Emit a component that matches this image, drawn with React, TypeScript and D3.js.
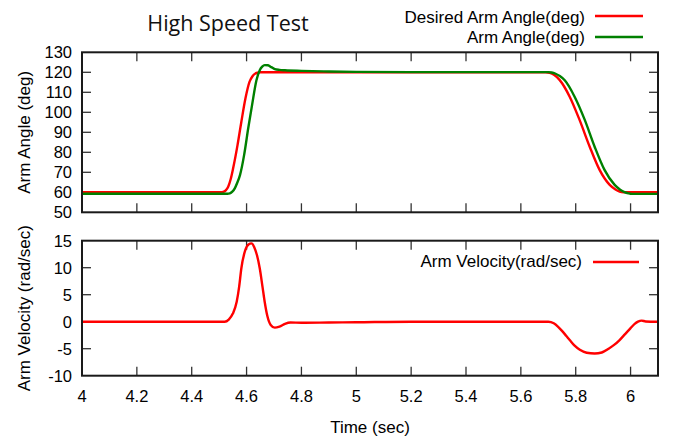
import React from "react";
import * as d3 from "d3";

// ---- Data ----
const desiredTime = [4.0, 4.505, 4.515, 4.524, 4.533, 4.542, 4.551, 4.567, 4.581, 4.596, 4.611, 4.621, 4.63, 4.64, 4.65, 5.69, 5.705, 5.722, 5.741, 5.778, 5.814, 5.851, 5.887, 5.924, 5.945, 5.96, 5.975, 5.997, 6.1];
const desiredAngle = [60, 60, 60.2, 61, 62.8, 66.5, 72, 83.6, 95.3, 107, 115.3, 117.9, 119.2, 119.8, 120, 120, 119.7, 118.6, 116.2, 107.8, 96.2, 82.8, 71.2, 63.7, 61.4, 60.4, 60.05, 60, 60];

const armTime = [4.0, 4.53, 4.539, 4.548, 4.557, 4.566, 4.576, 4.591, 4.606, 4.62, 4.636, 4.648, 4.657, 4.666, 4.678, 4.69, 4.703, 4.72, 4.74, 4.8, 4.9, 5.0, 5.2, 5.7, 5.712, 5.725, 5.742, 5.76, 5.796, 5.833, 5.869, 5.905, 5.942, 5.962, 5.978, 5.992, 6.005, 6.1];
const armAngle = [59.3, 59.3, 59.5, 60.3, 62, 64.8, 68.6, 78.6, 92, 103.6, 116, 121, 122.8, 123.6, 123.5, 122.6, 121.6, 121.2, 121.0, 120.7, 120.4, 120.2, 120.1, 120.1, 119.9, 119.4, 118.1, 116.0, 107.8, 96.2, 82.8, 71.2, 63.7, 61.3, 60.1, 59.5, 59.2, 59.2];

const velTime = [4.0, 4.52, 4.535, 4.55, 4.564, 4.573, 4.581, 4.595, 4.607, 4.618, 4.628, 4.638, 4.648, 4.658, 4.666, 4.676, 4.688, 4.703, 4.72, 4.74, 4.76, 4.8, 4.9, 5.0, 5.2, 5.7, 5.72, 5.735, 5.75, 5.765, 5.778, 5.795, 5.815, 5.84, 5.869, 5.895, 5.92, 5.94, 5.96, 5.98, 6.0, 6.015, 6.027, 6.04, 6.055, 6.1];
const armVelocity = [0, 0, 0.4, 1.5, 3.7, 6.5, 9.9, 13.2, 14.3, 14.5, 13.8, 12.3, 9.9, 6.5, 3.7, 1, -0.6, -1.1, -0.9, -0.4, -0.15, -0.2, -0.15, -0.1, 0, 0, -0.3, -0.9, -1.7, -2.6, -3.4, -4.4, -5.2, -5.75, -5.9, -5.7, -5.0, -4.3, -3.4, -2.3, -1.2, -0.4, 0, 0.2, 0.05, 0];

const xTicks = [4, 4.2, 4.4, 4.6, 4.8, 5, 5.2, 5.4, 5.6, 5.8, 6];
const angleTicks = [50, 60, 70, 80, 90, 100, 110, 120, 130];
const velTicks = [-10, -5, 0, 5, 10, 15];

const title = "High Speed Test";
const xLabel = "Time (sec)";
const angleLabel = "Arm Angle (deg)";
const velLabel = "Arm Velocity (rad/sec)";
const desiredName = "Desired Arm Angle(deg)";
const armName = "Arm Angle(deg)";
const velName = "Arm Velocity(rad/sec)";

const RED = "#ff0000";
const GREEN = "#008000";
const FONT = "'Liberation Sans', Arial, sans-serif";

export default function App() {
  const W = 674, H = 438;
  const left = 82, right = 658;
  const top1 = 52.3, bot1 = 212.3;
  const top2 = 240.7, bot2 = 375.7;
  const tickLen = 9;

  const x = d3.scaleLinear().domain([4, 6.1]).range([left, right]);
  const y1 = d3.scaleLinear().domain([50, 130]).range([bot1, top1]);
  const y2 = d3.scaleLinear().domain([-10, 15]).range([bot2, top2]);

  const mk = (ts: number[], vs: number[], ys: d3.ScaleLinear<number, number>) =>
    d3.line<number>().x((_, i) => x(ts[i])).y((v) => ys(v)).curve(d3.curveMonotoneX)(vs) || "";

  const desiredPath = mk(desiredTime, desiredAngle, y1);
  const armPath = mk(armTime, armAngle, y1);
  const velPath = mk(velTime, armVelocity, y2);

  const tickStroke = "#333";
  const fs = 16.5;

  const panel = (yTop: number, yBot: number, ys: d3.ScaleLinear<number, number>, yt: number[], key: string) => (
    <g key={key}>
      {xTicks.filter((t) => t > 4).map((t) => (
        <g key={"x" + t}>
          <line x1={x(t)} x2={x(t)} y1={yBot} y2={yBot - tickLen} stroke={tickStroke} strokeWidth={1.3} />
          <line x1={x(t)} x2={x(t)} y1={yTop} y2={yTop + tickLen} stroke={tickStroke} strokeWidth={1.3} />
        </g>
      ))}
      {yt.filter((v) => ys(v) > yTop + 1 && ys(v) < yBot - 1).map((v) => (
        <g key={"y" + v}>
          <line x1={left} x2={left + tickLen} y1={ys(v)} y2={ys(v)} stroke={tickStroke} strokeWidth={1.3} />
          <line x1={right} x2={right - tickLen} y1={ys(v)} y2={ys(v)} stroke={tickStroke} strokeWidth={1.3} />
        </g>
      ))}
      {yt.map((v) => (
        <text key={"yl" + v} x={72} y={ys(v) + fs * 0.36} textAnchor="end" fontSize={fs} fontFamily={FONT} fill="#000">
          {v}
        </text>
      ))}
    </g>
  );

  return (
    <svg width={W} height={H} style={{ position: "absolute", left: 0, top: 0, background: "#fff" }}>
      <rect x={0} y={0} width={W} height={H} fill="#fff" />
      <text x={228} y={31} textAnchor="middle" fontSize={21.5} fontFamily="'Open Sans', sans-serif" fill="#111">
        {title}
      </text>

      <defs>
        <clipPath id="c1"><rect x={left} y={top1} width={right - left} height={bot1 - top1} /></clipPath>
        <clipPath id="c2"><rect x={left} y={top2} width={right - left} height={bot2 - top2} /></clipPath>
      </defs>

      {panel(top1, bot1, y1, angleTicks, "p1")}
      {panel(top2, bot2, y2, velTicks, "p2")}

      <g clipPath="url(#c1)">
        <path d={desiredPath} fill="none" stroke={RED} strokeWidth={2.4} />
        <path d={armPath} fill="none" stroke={GREEN} strokeWidth={2.4} />
      </g>
      <g clipPath="url(#c2)">
        <path d={velPath} fill="none" stroke={RED} strokeWidth={2.4} />
      </g>

      <rect x={left} y={top1} width={right - left} height={bot1 - top1} fill="none" stroke="#1a1a1a" strokeWidth={2} />
      <rect x={left} y={top2} width={right - left} height={bot2 - top2} fill="none" stroke="#1a1a1a" strokeWidth={2} />

      {xTicks.map((t) => (
        <text key={"xl" + t} x={x(t)} y={402} textAnchor="middle" fontSize={fs} fontFamily={FONT} fill="#000">
          {t}
        </text>
      ))}

      <text x={(left + right) / 2} y={433} textAnchor="middle" fontSize={17} fontFamily={FONT} fill="#000">{xLabel}</text>
      <text transform={`translate(30,${(top1 + bot1) / 2}) rotate(-90)`} textAnchor="middle" fontSize={17} fontFamily={FONT} fill="#000">{angleLabel}</text>
      <text transform={`translate(30,${(top2 + bot2) / 2}) rotate(-90)`} textAnchor="middle" fontSize={17} fontFamily={FONT} fill="#000">{velLabel}</text>

      {/* legends */}
      <text x={585} y={22.5} textAnchor="end" fontSize={17} fontFamily={FONT} fill="#000">{desiredName}</text>
      <line x1={595} x2={643} y1={16} y2={16} stroke={RED} strokeWidth={2.4} />
      <text x={585} y={42.5} textAnchor="end" fontSize={17} fontFamily={FONT} fill="#000">{armName}</text>
      <line x1={595} x2={643} y1={37} y2={37} stroke={GREEN} strokeWidth={2.4} />
      <text x={582} y={266.7} textAnchor="end" fontSize={17} fontFamily={FONT} fill="#000">{velName}</text>
      <line x1={593} x2={639} y1={262} y2={262} stroke={RED} strokeWidth={2.4} />
    </svg>
  );
}
